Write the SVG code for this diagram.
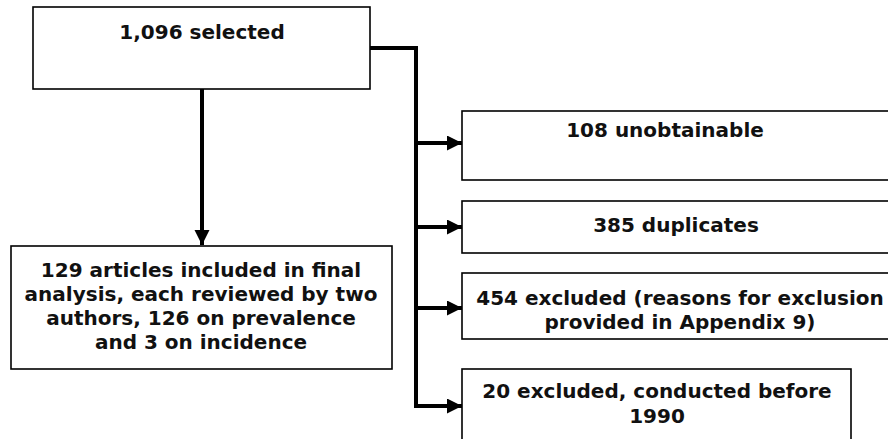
<svg xmlns="http://www.w3.org/2000/svg" width="888" height="439" viewBox="0 0 888 439">
<style>
.box{fill:#fff;stroke:#000;stroke-width:1.6}
.t{font-family:"DejaVu Sans",Verdana,sans-serif;font-weight:bold;font-size:20px;fill:#111;text-anchor:middle}
.c{fill:none;stroke:#000;stroke-width:4}
</style>
<defs>
<marker id="ah" markerUnits="userSpaceOnUse" markerWidth="16" markerHeight="16" refX="15" refY="7.5" orient="auto">
<path d="M0,0 L15,7.5 L0,15 Z" fill="#000"/>
</marker>
</defs>
<g id="n1"><rect class="box" x="33" y="7" width="337" height="82"/><text class="t" x="202" y="39">1,096 selected</text></g>
<g id="n2"><rect class="box" x="462" y="111" width="440" height="69"/><text class="t" x="665" y="137">108 unobtainable</text></g>
<g id="n3"><rect class="box" x="462" y="201" width="440" height="52"/><text class="t" x="676" y="232">385 duplicates</text></g>
<g id="n4"><rect class="box" x="462" y="273" width="440" height="66"/><text class="t" x="680" y="305">454 excluded (reasons for exclusion</text><text class="t" x="680" y="329">provided in Appendix 9)</text></g>
<g id="n5"><rect class="box" x="462" y="369" width="389" height="80"/><text class="t" x="657" y="398">20 excluded, conducted before</text><text class="t" x="657" y="423">1990</text></g>
<g id="n6"><rect class="box" x="11" y="246" width="381" height="123"/><text class="t" x="201" y="277">129 articles included in final</text><text class="t" x="201" y="301">analysis, each reviewed by two</text><text class="t" x="201" y="325">authors, 126 on prevalence</text><text class="t" x="201" y="349">and 3 on incidence</text></g>
<g id="connectors">
<path class="c" d="M202,89 V245" marker-end="url(#ah)"/>
<path class="c" d="M370,48 H416 V408"/>
<path class="c" d="M414,143 H462" marker-end="url(#ah)"/>
<path class="c" d="M414,227 H462" marker-end="url(#ah)"/>
<path class="c" d="M414,308 H462" marker-end="url(#ah)"/>
<path class="c" d="M414,406 H462" marker-end="url(#ah)"/>
</g>
</svg>
